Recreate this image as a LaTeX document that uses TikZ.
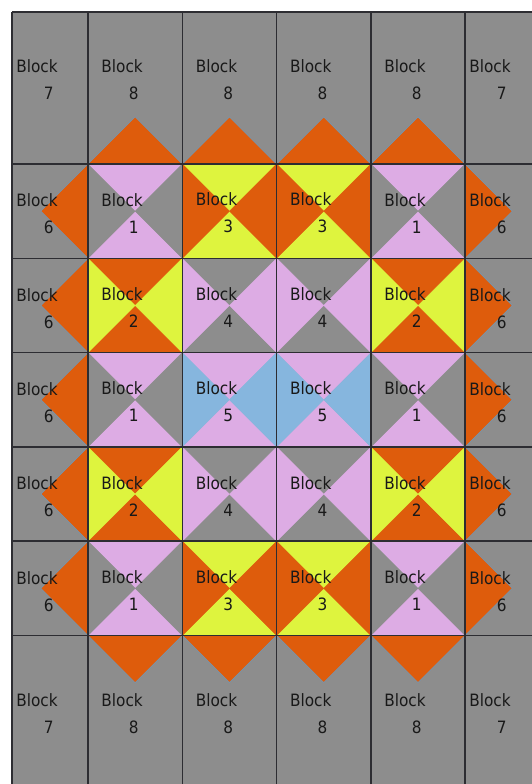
\documentclass[tikz,border=0pt]{standalone}
\usepackage{fontspec}
\setmainfont{DejaVu Sans Condensed}
\usepackage{tikz}

\definecolor{cellgray}{RGB}{141,141,141}
\definecolor{tileorange}{RGB}{222,92,12}
\definecolor{tilepink}{RGB}{221,172,228}
\definecolor{tileyellow}{RGB}{222,244,62}
\definecolor{tileblue}{RGB}{134,182,222}
\definecolor{gridline}{RGB}{45,45,50}
\definecolor{edgeblue}{RGB}{118,150,176}

\begin{document}
\begin{tikzpicture}[x=1pt,y=-1pt,
    blocklabel/.style={align=left, inner sep=0pt, text=black!90, font=\fontsize{17}{27}\selectfont},
    edgetri/.style={fill=tileorange, draw=edgeblue, line width=0.7pt},
    cellline/.style={draw=gridline, line width=1.6pt}
  ]
    \def\s{94.3}
    \def\h{47.15}
    \useasboundingbox (0,0) rectangle (532,784);
    \fill[cellgray] (12,12) rectangle (532,784);

    % inner cells: top/bottom colour, left/right colour, block number
    \foreach \i/\j/\tb/\lr/\n in {
        1/1/tilepink/cellgray/1, 2/1/tileyellow/tileorange/3, 3/1/tileyellow/tileorange/3, 4/1/tilepink/cellgray/1,
        1/2/tileorange/tileyellow/2, 2/2/cellgray/tilepink/4, 3/2/cellgray/tilepink/4, 4/2/tileorange/tileyellow/2,
        1/3/tilepink/cellgray/1, 2/3/tilepink/tileblue/5, 3/3/tilepink/tileblue/5, 4/3/tilepink/cellgray/1,
        1/4/tileorange/tileyellow/2, 2/4/cellgray/tilepink/4, 3/4/cellgray/tilepink/4, 4/4/tileorange/tileyellow/2,
        1/5/tilepink/cellgray/1, 2/5/tileyellow/tileorange/3, 3/5/tileyellow/tileorange/3, 4/5/tilepink/cellgray/1}{
      \pgfmathsetmacro\x{88+(\i-1)*\s}
      \pgfmathsetmacro\y{164+(\j-1)*\s}
      \filldraw[\tb, line width=0.3pt] (\x,\y) -- ++(\s,0) -- ++(-\h,\h) -- cycle;
      \filldraw[\tb, line width=0.3pt] (\x,\y) ++(0,\s) -- ++(\s,0) -- ++(-\h,-\h) -- cycle;
      \filldraw[\lr, line width=0.3pt] (\x,\y) -- ++(0,\s) -- ++(\h,-\h) -- cycle;
      \filldraw[\lr, line width=0.3pt] (\x,\y) ++(\s,0) -- ++(0,\s) -- ++(-\h,-\h) -- cycle;
      \node[blocklabel] (b\i\j) at ({\x+\h-13},{\y+\h+2}) {Block\\\hspace*{27.5pt}\n};
    }

    % border blocks 8 (top and bottom)
    \foreach \i in {1,...,4}{
      \pgfmathsetmacro\x{88+(\i-1)*\s}
      \path[edgetri] (\x,164) -- ++(\h,-\h) -- ++(\h,\h) -- cycle;
      \path[edgetri] (\x,635.5) -- ++(\h,\h) -- ++(\h,-\h) -- cycle;
      \node[blocklabel] (top\i) at ({\x+\h-13},80) {Block\\\hspace*{27.5pt}8};
      \node[blocklabel] (bot\i) at ({\x+\h-13},714) {Block\\\hspace*{27.5pt}8};
    }

    % border blocks 6 (left and right)
    \foreach \j in {1,...,5}{
      \pgfmathsetmacro\y{164+(\j-1)*\s}
      \path[edgetri] (88,\y) -- ++(-\h,\h) -- ++(\h,\h) -- cycle;
      \path[edgetri] (465.2,\y) -- ++(\h,\h) -- ++(-\h,\h) -- cycle;
      \node[blocklabel] (left\j) at (37,{\y+\h+3}) {Block\\\hspace*{27.5pt}6};
      \node[blocklabel] (right\j) at (490,{\y+\h+3}) {Block\\\hspace*{27.5pt}6};
    }

    % corner blocks 7
    \node[blocklabel] (tl) at (37,80) {Block\\\hspace*{27.5pt}7};
    \node[blocklabel] (tr) at (490,80) {Block\\\hspace*{27.5pt}7};
    \node[blocklabel] (bl) at (37,714) {Block\\\hspace*{27.5pt}7};
    \node[blocklabel] (br) at (490,714) {Block\\\hspace*{27.5pt}7};

    % grid lines
    \foreach \xx in {12,88,182.3,276.6,370.9,465.2}
      \draw[cellline] (\xx,12) -- (\xx,784);
    \foreach \yy in {12,164,258.3,352.6,446.9,541.2,635.5}
      \draw[cellline] (12,\yy) -- (532,\yy);
  \end{tikzpicture}
\end{document}
